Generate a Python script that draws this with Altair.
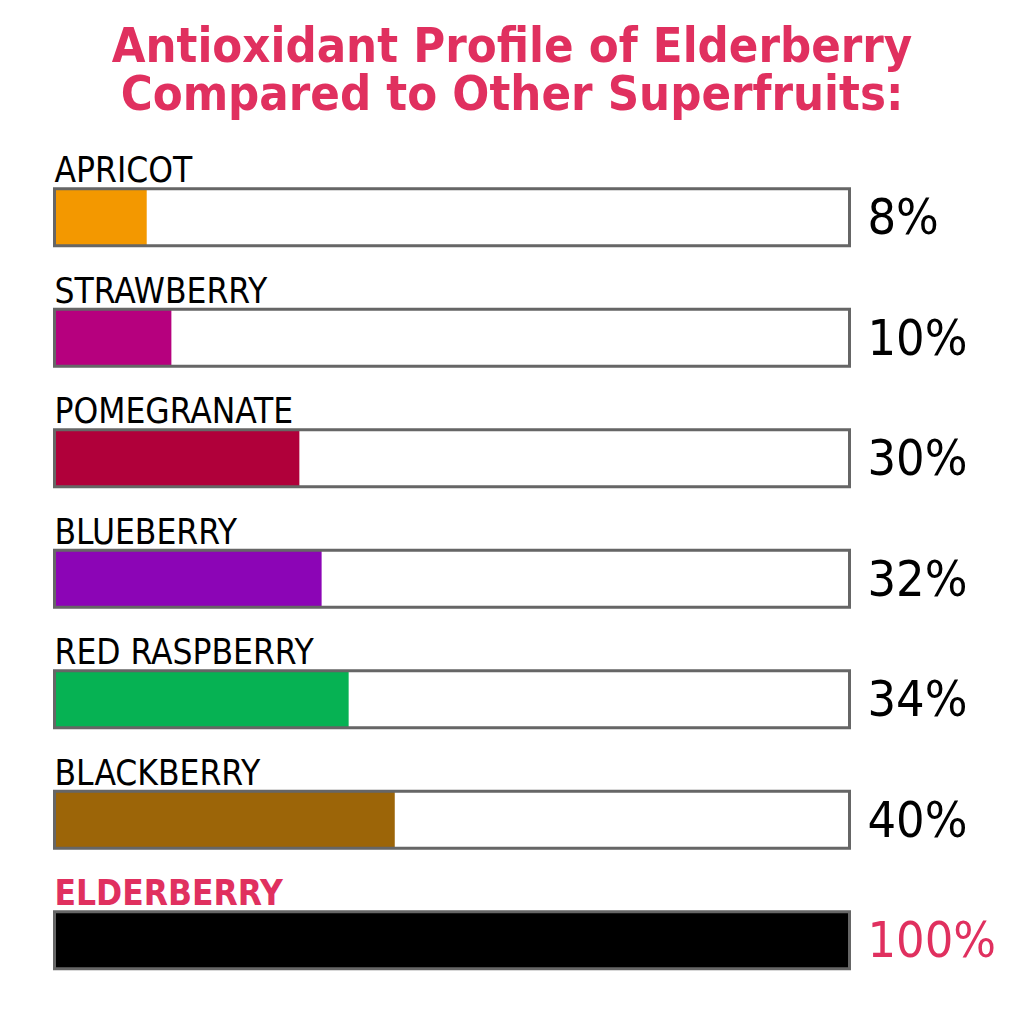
import altair as alt
import pandas as pd

fruits = ["APRICOT", "STRAWBERRY", "POMEGRANATE", "BLUEBERRY", "RED RASPBERRY", "BLACKBERRY", "ELDERBERRY"]
percent_labels = ["8%", "10%", "30%", "32%", "34%", "40%", "100%"]
# bar fill length as drawn in the picture (share of the full box)
fill_share = [11.6, 14.7, 30.8, 33.6, 37.0, 42.8, 100.0]
colors = ["#F39800", "#B6007E", "#B0003A", "#8C05B6", "#06B253", "#9C6508", "#000000"]
label_colors = ["#000000"] * 6 + ["#E0305F"]
highlight = [False] * 6 + [True]

df = pd.DataFrame({
    "fruit": fruits,
    "pct": percent_labels,
    "fill": fill_share,
    "color": colors,
    "lcolor": label_colors,
    "hl": highlight,
    "full": [100] * len(fruits),
    "zero": [0] * len(fruits),
})

FONT = "DejaVu Sans Condensed, DejaVu Sans"
PINK = "#E0305F"

xs = alt.Scale(domain=[0, 100], range=[46.5, 841.5])
ys = alt.Scale(domain=fruits, range=[33, 876.5], paddingInner=0, paddingOuter=0)

y = alt.Y("fruit:N", scale=ys, axis=None, sort=fruits)
x0 = alt.X("zero:Q", scale=xs, axis=None)

base = alt.Chart(df)

fill_bars = base.mark_bar(size=57, strokeWidth=0).encode(
    x=x0,
    x2="fill:Q",
    y=y,
    color=alt.Color("color:N", scale=None, legend=None),
)

boxes = base.mark_bar(size=57, fill="white", fillOpacity=0, stroke="#666666", strokeWidth=3).encode(
    x=x0,
    x2="full:Q",
    y=y,
)

labels_normal = base.transform_filter("!datum.hl").mark_text(
    align="left", baseline="alphabetic", dx=0, dy=-35, fontSize=35, font=FONT, color="#000000"
).encode(x=x0, y=y, text="fruit:N")

labels_bold = base.transform_filter("datum.hl").mark_text(
    align="left", baseline="alphabetic", dx=0, dy=-35, fontSize=35, font=FONT,
    fontWeight="bold", color=PINK
).encode(x=x0, y=y, text="fruit:N")

pcts = base.mark_text(
    align="left", baseline="middle", dx=18, dy=2, fontSize=50, font=FONT
).encode(
    x=alt.X("full:Q", scale=xs, axis=None),
    y=y,
    text="pct:N",
    color=alt.Color("lcolor:N", scale=None, legend=None),
)

chart = alt.layer(fill_bars, boxes, labels_normal, labels_bold, pcts).properties(
    width=1008,
    height=880,
    padding={"left": 0, "top": 15, "right": 0, "bottom": 0},
    background="white",
    title=alt.TitleParams(
        text=["Antioxidant Profile of Elderberry", "Compared to Other Superfruits:"],
        font=FONT,
        fontSize=48.5,
        fontWeight="bold",
        color=PINK,
        anchor="middle",
        lineHeight=47.5,
        offset=4,
    ),
).configure_view(strokeWidth=0, stroke="transparent")

chart.save("out.html", embed_options={"renderer": "svg", "actions": False})
